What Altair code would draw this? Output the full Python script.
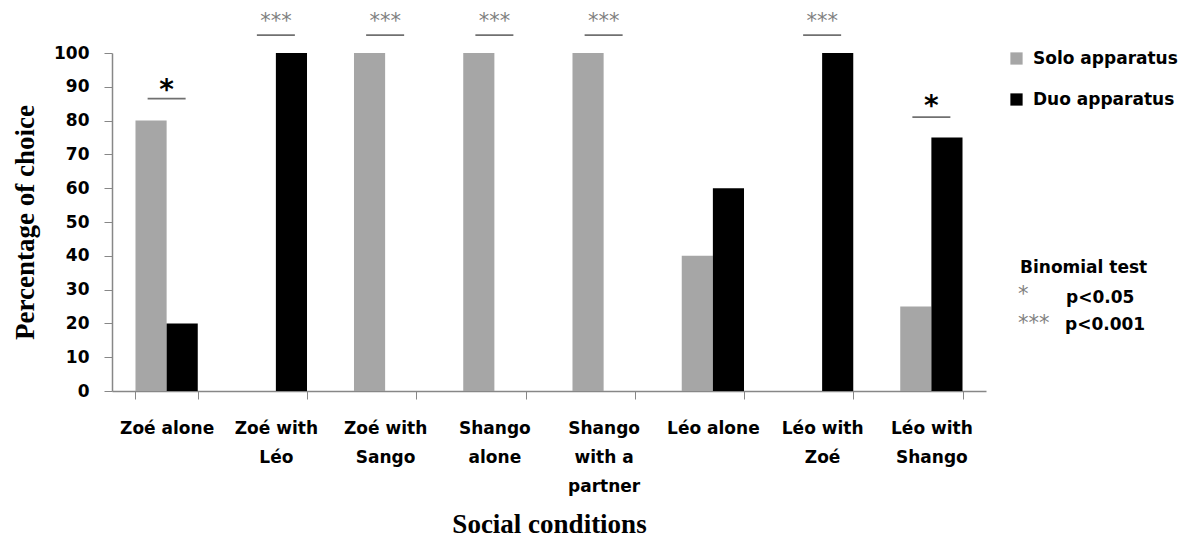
import json
import altair as alt
import pandas as pd

# Social conditions (x categories) and their wrapped tick labels
conditions = [
    "Zoé alone", "Zoé with Léo", "Zoé with Sango", "Shango alone",
    "Shango with a partner", "Léo alone", "Léo with Zoé", "Léo with Shango",
]
condition_lines = [
    ["Zoé alone"], ["Zoé with", "Léo"], ["Zoé with", "Sango"], ["Shango", "alone"],
    ["Shango", "with a", "partner"], ["Léo alone"], ["Léo with", "Zoé"], ["Léo with", "Shango"],
]

# Percentage of choice for each apparatus
series = ["Solo apparatus", "Duo apparatus"]
solo_pct = [80, 0, 100, 100, 100, 40, 0, 25]
duo_pct = [20, 100, 0, 0, 0, 60, 100, 75]

# Binomial-test significance marks above each condition
sig_conditions = ["Zoé alone", "Zoé with Léo", "Zoé with Sango", "Shango alone",
                  "Shango with a partner", "Léo with Zoé", "Léo with Shango"]
sig_stars = ["*", "***", "***", "***", "***", "***", "*"]
sig_line_y = [86.5, 105.3, 105.3, 105.3, 105.3, 105.3, 81]
sig_star_y = [91, 110.5, 110.5, 110.5, 110.5, 110.5, 86.5]

rows = []
for c, s, d in zip(conditions, solo_pct, duo_pct):
    rows.append({"condition": c, "apparatus": series[0], "pct": s})
    rows.append({"condition": c, "apparatus": series[1], "pct": d})
bars_df = pd.DataFrame(rows)

sig_df = pd.DataFrame({
    "condition": sig_conditions, "stars": sig_stars,
    "line_y": sig_line_y, "star_y": sig_star_y,
    "big": [s == "*" for s in sig_stars],
})

label_map = json.dumps(dict(zip(conditions, condition_lines)), ensure_ascii=False)

SANS = "DejaVu Sans"
SERIF = "Liberation Serif"
STAR_FONT = "DejaVu Sans"
AXIS_GREY = "#878787"
STAR_GREY = "#808080"
FS = 17

x_axis = alt.Axis(
    title="Social conditions", titleFont=SERIF, titleFontSize=27, titleFontWeight="bold",
    titleColor="black", titleY=141, titleBaseline="alphabetic",
    labelExpr=f"{label_map}[datum.value]", labelAngle=0,
    labelFont=SANS, labelFontSize=FS, labelFontWeight="bold", labelColor="black",
    labelLineHeight=29, labelPadding=29, labelBaseline="middle",
    tickBand="extent", tickSize=8, tickColor=AXIS_GREY,
    domainColor=AXIS_GREY, domainWidth=1.5, grid=False,
)
x_scale = alt.Scale(domain=conditions, paddingInner=0.43, paddingOuter=0.215)

y_axis = alt.Axis(
    title="Percentage of choice", titleFont=SERIF, titleFontSize=27,
    titleFontWeight="bold", titleColor="black", titleX=-79, titleBaseline="alphabetic",
    values=list(range(0, 101, 10)), labelOverlap=False,
    labelFont=SANS, labelFontSize=FS, labelFontWeight="bold", labelColor="black",
    labelPadding=15, tickSize=8, tickColor=AXIS_GREY,
    domainColor=AXIS_GREY, domainWidth=1.5, grid=False,
)
y_scale = alt.Scale(domain=[0, 100])


def xcat():
    return alt.X("condition:N", sort=conditions, scale=x_scale, axis=x_axis)


def yq(field):
    return alt.Y(f"{field}:Q", scale=y_scale, axis=y_axis)


bars = alt.Chart(bars_df).mark_bar().encode(
    x=xcat(),
    xOffset=alt.XOffset("apparatus:N", sort=series,
                        scale=alt.Scale(domain=series, paddingInner=0, paddingOuter=0)),
    y=yq("pct"),
    color=alt.Color(
        "apparatus:N", sort=series,
        scale=alt.Scale(domain=series, range=["#a6a6a6", "#000000"]),
        legend=alt.Legend(
            title=None, orient="none", legendX=896, legendY=-3,
            symbolType="square", symbolSize=150, symbolStrokeWidth=0,
            labelFont=SANS, labelFontSize=FS, labelFontWeight="bold", labelColor="black",
            labelOffset=8, rowPadding=23,
        ),
    ),
)

sig_lines = alt.Chart(sig_df).mark_tick(
    orient="horizontal", size=38, thickness=1.8, color="#333333"
).encode(x=xcat(), y=yq("line_y"))

stars_small = alt.Chart(sig_df).transform_filter("!datum.big").mark_text(
    font=STAR_FONT, fontSize=21, color=STAR_GREY, baseline="middle", dy=4
).encode(x=xcat(), y=yq("star_y"), text="stars:N")

stars_big = alt.Chart(sig_df).transform_filter("datum.big").mark_text(
    font=STAR_FONT, fontSize=28, fontWeight="bold", color="black", baseline="middle", dy=8
).encode(x=xcat(), y=yq("star_y"), text="stars:N")

# Key for the significance levels, to the right of the plot
key_text = ["Binomial test", "p<0.05", "p<0.001"]
key_df = pd.DataFrame({"t": key_text})
key_style = dict(font=SANS, fontSize=FS, fontWeight="bold", align="left",
                 baseline="alphabetic", color="black")
key_title = alt.Chart(key_df.iloc[[0]]).mark_text(**key_style).encode(
    x=alt.value(908), y=alt.value(220), text="t:N")
key_p05 = alt.Chart(key_df.iloc[[1]]).mark_text(**key_style).encode(
    x=alt.value(954), y=alt.value(250), text="t:N")
key_p001 = alt.Chart(key_df.iloc[[2]]).mark_text(**key_style).encode(
    x=alt.value(953), y=alt.value(277), text="t:N")
key_stars_df = pd.DataFrame({"s": ["*", "***"]})
key_star_style = dict(font=STAR_FONT, fontSize=21, color=STAR_GREY, align="left",
                      baseline="middle", dy=4)
key_s1 = alt.Chart(key_stars_df.iloc[[0]]).mark_text(**key_star_style).encode(
    x=alt.value(906), y=alt.value(238), text="s:N")
key_s3 = alt.Chart(key_stars_df.iloc[[1]]).mark_text(**key_star_style).encode(
    x=alt.value(906), y=alt.value(267), text="s:N")

chart = alt.layer(
    bars, sig_lines, stars_small, stars_big,
    key_title, key_p05, key_p001, key_s1, key_s3,
).properties(
    width=874, height=338,
    padding={"left": 112, "top": 53, "right": 197, "bottom": 149},
    autosize="none",
    background="white",
).configure_view(stroke=None)

chart.save("out.html", embed_options={"renderer": "svg", "actions": False})
